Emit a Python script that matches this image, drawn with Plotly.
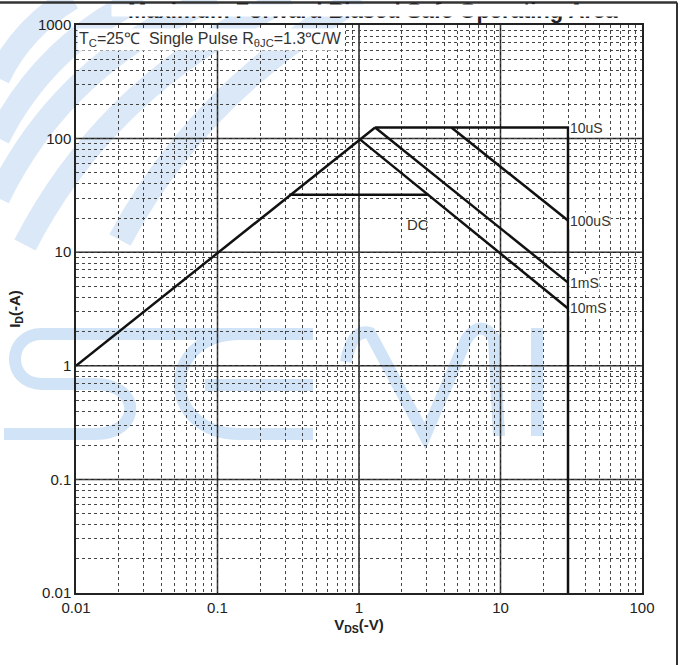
import math
import plotly.graph_objects as go

# ---- data ----
rds_v = [0.01, 1.3]
rds_i = [1.0, 125.0]

us10_v = [1.3, 30.0, 30.0]
us10_i = [125.0, 125.0, 0.01]

us100_v = [4.5, 30.0]
us100_i = [125.0, 19.0]

ms1_v = [1.3, 30.0]
ms1_i = [125.0, 5.4]

ms10_v = [1.0, 30.0]
ms10_i = [100.0, 3.2]

dc_v = [0.32, 3.1]
dc_i = [32.0, 32.0]

label_text = ["10uS", "100uS", "1mS", "10mS"]
label_v = [30.5, 30.5, 30.5, 30.5]
label_i = [125.0, 19.0, 5.4, 3.2]

dc_label_v = 2.6
dc_label_i = 17.5

x_decades = [0.01, 0.1, 1, 10, 100]
x_decade_text = ["0.01", "0.1", "1", "10", "100"]
y_decades = [0.01, 0.1, 1, 10, 100, 1000]
y_decade_text = ["0.01", "0.1", "1", "10", "100", "1000"]
minor_mult = [2, 3, 4, 5, 6, 7, 8, 9]

FONT = "Liberation Sans, Arial, sans-serif"
line_style = dict(color="#111111", width=2.5)

W, H = 684, 665
ML, MR, MT, MB = 76, 42, 25, 72
PW, PH = W - ML - MR, H - MT - MB


def P(px, py):
    """page pixel -> paper coordinate string (for decorative watermark paths)"""
    return f"{(px - ML) / PW:.4f},{(H - MB - py) / PH:.4f}"


fig = go.Figure()

# ---- faint background watermark (decorative) ----
wm = "#d0e3f7"
wm2 = "#dbe8f7"
swooshes = [
    f"M {P(72,-2)} Q {P(22,28)} {P(-2,78)}",
    f"M {P(142,-2)} Q {P(45,45)} {P(-2,138)}",
    f"M {P(216,-2)} Q {P(65,60)} {P(-2,198)}",
    f"M {P(290,-2)} Q {P(110,80)} {P(25,245)}",
    f"M {P(360,-2)} Q {P(200,90)} {P(120,240)}",
]
for pth in swooshes:
    fig.add_shape(type="path", path=pth, xref="paper", yref="paper", layer="below",
                  line=dict(color=wm2, width=24))
letters = [
    # S
    f"M {P(313,334)} L {P(42,334)} C {P(6,334)} {P(6,384)} {P(42,384)} L {P(95,384)} "
    f"C {P(142,384)} {P(142,434)} {P(95,434)} L {P(4,434)}",
    # rounded E
    f"M {P(313,334)} L {P(240,334)} C {P(160,334)} {P(160,434)} {P(240,434)} L {P(313,434)}",
    f"M {P(205,385)} L {P(313,385)}",
    # M
    f"M {P(346,362)} Q {P(352,328)} {P(370,333)} L {P(425,436)} L {P(466,340)} "
    f"Q {P(480,318)} {P(494,338)} L {P(499,436)}",
    # I
    f"M {P(537,328)} L {P(537,436)}",
]
for pth in letters:
    fig.add_shape(type="path", path=pth, xref="paper", yref="paper", layer="below",
                  line=dict(color=wm, width=12))

# ---- SOA curves ----
for xs, ys in [(rds_v, rds_i), (us10_v, us10_i), (us100_v, us100_i),
               (ms1_v, ms1_i), (ms10_v, ms10_i), (dc_v, dc_i)]:
    fig.add_trace(go.Scatter(x=xs, y=ys, mode="lines", line=line_style,
                             showlegend=False, hoverinfo="skip"))

for t, v, i in zip(label_text, label_v, label_i):
    fig.add_annotation(x=math.log10(v), y=math.log10(i), xref="x", yref="y", text=t,
                       showarrow=False, xanchor="left", yanchor="middle", bgcolor="white",
                       borderpad=0, font=dict(family=FONT, size=14, color="#333333"))

fig.add_annotation(x=math.log10(dc_label_v), y=math.log10(dc_label_i), xref="x", yref="y",
                   text="DC", showarrow=False,
                   font=dict(family=FONT, size=15, color="#333333"))


def ticks_for(decades, labels):
    vals, text = [], []
    for d, lab in zip(decades, labels):
        vals.append(d)
        text.append(lab)
        if d != decades[-1]:
            for m in minor_mult:
                vals.append(d * m)
                text.append("")
    return vals, text


xv, xt = ticks_for(x_decades, x_decade_text)
yv, yt = ticks_for(y_decades, y_decade_text)

axis_common = dict(
    type="log", automargin=False,
    showline=True, linecolor="#222222", linewidth=1.5, mirror=True,
    showgrid=True, gridcolor="#444444", gridwidth=1, griddash="dot",
    ticks="", zeroline=False,
    tickfont=dict(family=FONT, size=15, color="#222222"),
)

fig.update_xaxes(**axis_common, range=[-2, 2], tickvals=xv, ticktext=xt,
                 title=dict(text="<b>V<sub>DS</sub>(-V)</b>", standoff=4,
                            font=dict(family=FONT, size=15, color="#222222")))
fig.update_yaxes(**axis_common, range=[-2, 3], tickvals=yv, ticktext=yt,
                 title=dict(text="<b>I<sub>D</sub>(-A)</b>", standoff=14,
                            font=dict(family=FONT, size=15, color="#222222")))

# solid decade grid lines
for d in x_decades[1:-1]:
    fig.add_shape(type="line", xref="x", yref="paper", x0=d, x1=d, y0=0, y1=1,
                  line=dict(color="#222222", width=1.5), layer="below")
for d in y_decades[1:-1]:
    fig.add_shape(type="line", xref="paper", yref="y", x0=0, x1=1, y0=d, y1=d,
                  line=dict(color="#222222", width=1.5), layer="below")

# condition note
fig.add_annotation(x=0.002, y=0.995, xref="paper", yref="paper", xanchor="left", yanchor="top",
                   text="T<sub>C</sub>=25℃  Single Pulse R<sub>θJC</sub>=1.3℃/W",
                   showarrow=False, bgcolor="white", borderpad=1,
                   font=dict(family=FONT, size=16, color="#333333"))

# partially cut title (only its lower part is visible in the reference)
fig.add_annotation(x=0.525, y=(H - MB - 11) / PH, xref="paper", yref="paper",
                   xanchor="center", yanchor="middle",
                   text="<b>Maximum Forward Biased Safe Operating Area</b>", showarrow=False,
                   font=dict(family=FONT, size=22, color="#222222"))
fig.add_annotation(x=(372 - ML) / PW, y=(H - MB - 4) / PH, xref="paper", yref="paper",
                   xanchor="center", yanchor="top",
                   text=" ", showarrow=False, bgcolor="white", borderpad=0,
                   width=520, height=11, font=dict(size=4))

# frame lines of the original figure
fig.add_shape(type="line", xref="paper", yref="paper", x0=-0.2, x1=(677 - ML) / PW,
              y0=(H - MB - 2.5) / PH, y1=(H - MB - 2.5) / PH, line=dict(color="#333333", width=2.5))
fig.add_shape(type="line", xref="paper", yref="paper", x0=(677 - ML) / PW, x1=(677 - ML) / PW,
              y0=-0.2, y1=(H - MB - 2.5) / PH, line=dict(color="#333333", width=2))

fig.update_layout(
    width=W, height=H,
    margin=dict(l=ML, r=MR, t=MT, b=MB),
    paper_bgcolor="white", plot_bgcolor="white",
)

fig.write_html("out.html", config={"displayModeBar": False},
               post_script="document.body.style.margin='0px';")
